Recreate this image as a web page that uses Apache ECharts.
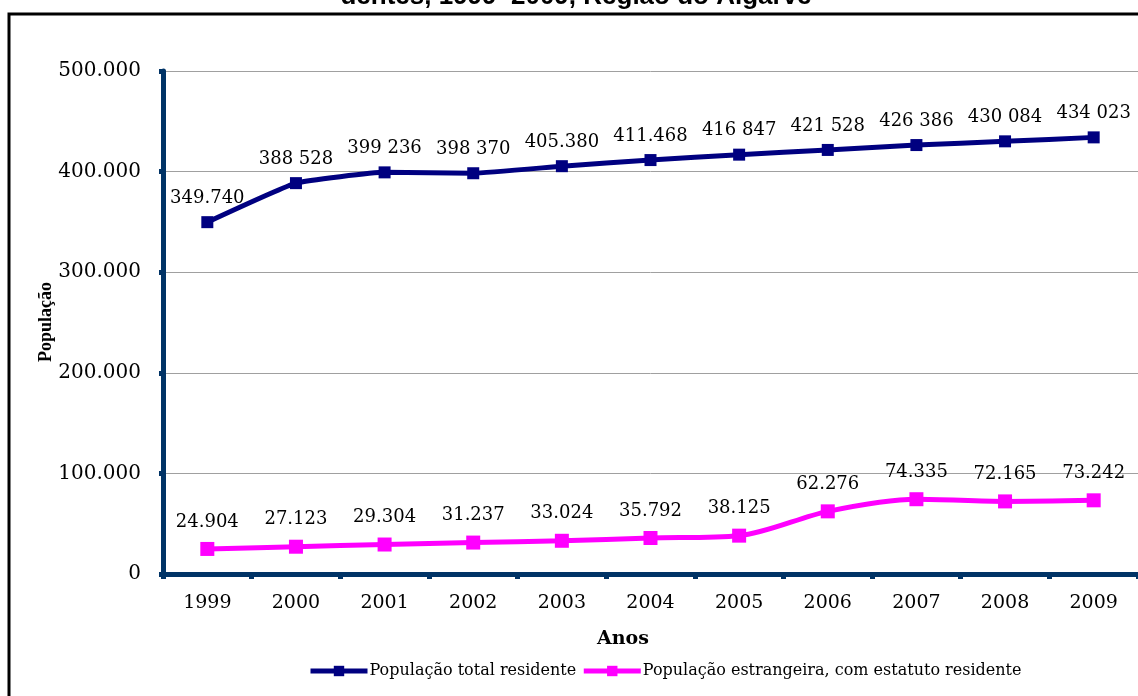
<!DOCTYPE html>
<html>
<head>
<meta charset="utf-8">
<script src="https://cdn.jsdelivr.net/npm/echarts@6/dist/echarts.min.js"></script>
<style>
  html, body { margin: 0; padding: 0; background: #fff; }
  #chart { width: 1138px; height: 696px; }
</style>
</head>
<body>
<div id="chart"></div>
<script>
// anos
const years = ['1999', '2000', '2001', '2002', '2003', '2004', '2005', '2006', '2007', '2008', '2009'];
// população total residente
const totalValues = [349740, 388528, 399236, 398370, 405380, 411468, 416847, 421528, 426386, 430084, 434023];
const totalLabels = ['349.740', '388 528', '399 236', '398 370', '405.380', '411.468', '416 847', '421 528', '426 386', '430 084', '434 023'];
// população estrangeira, com estatuto residente
const foreignValues = [24904, 27123, 29304, 31237, 33024, 35792, 38125, 62276, 74335, 72165, 73242];
const foreignLabels = ['24.904', '27.123', '29.304', '31.237', '33.024', '35.792', '38.125', '62.276', '74.335', '72.165', '73.242'];
// eixo Y
const yTickLabels = { 0: '0', 100000: '100.000', 200000: '200.000', 300000: '300.000', 400000: '400.000', 500000: '500.000' };

const serif = '"DejaVu Serif", "Liberation Serif", serif';
const axisColor = '#003366';

const chart = echarts.init(document.getElementById('chart'));

const option = {
  animation: false,
  backgroundColor: '#fff',
  grid: { left: 163, top: 71, width: 976, height: 503, containLabel: false },
  legend: {
    left: 303,
    top: 658,
    itemWidth: 57,
    itemHeight: 13,
    itemGap: 5,
    lineStyle: { width: 5 },
    textStyle: { fontFamily: serif, fontSize: 16, color: '#000', padding: [0, 0, 0, -3] },
    data: ['População total residente', 'População estrangeira, com estatuto residente']
  },
  xAxis: {
    type: 'category',
    data: years,
    boundaryGap: true,
    axisLine: { lineStyle: { color: axisColor, width: 5 } },
    axisTick: { show: true, length: 5, lineStyle: { color: axisColor, width: 5 } },
    axisLabel: { fontFamily: serif, fontSize: 19, color: '#000', margin: 20 },
    splitLine: { show: false }
  },
  yAxis: {
    type: 'value',
    min: 0,
    max: 500000,
    interval: 100000,
    axisLine: { show: true, lineStyle: { color: axisColor, width: 5 } },
    axisTick: { show: true, length: 4, lineStyle: { color: axisColor, width: 5 } },
    axisLabel: {
      fontFamily: serif, fontSize: 20, color: '#000', margin: 22,
      formatter: (v) => yTickLabels[v]
    },
    splitLine: { show: true, lineStyle: { color: '#a0a0a0', width: 1 } }
  },
  series: [
    {
      name: 'População total residente',
      type: 'line',
      data: totalValues,
      smooth: 0.12,
      symbol: 'rect',
      symbolSize: 12,
      lineStyle: { color: '#000080', width: 5 },
      itemStyle: { color: '#000080' },
      label: {
        show: true,
        position: 'top',
        distance: 9,
        fontFamily: serif,
        fontSize: 18,
        color: '#000',
        formatter: (p) => totalLabels[p.dataIndex]
      }
    },
    {
      name: 'População estrangeira, com estatuto residente',
      type: 'line',
      data: foreignValues,
      smooth: 0.3,
      symbol: 'rect',
      symbolSize: 14,
      lineStyle: { color: '#ff00ff', width: 5 },
      itemStyle: { color: '#ff00ff' },
      label: {
        show: true,
        position: 'top',
        distance: 11,
        fontFamily: serif,
        fontSize: 18,
        color: '#000',
        formatter: (p) => foreignLabels[p.dataIndex]
      }
    }
  ],
  graphic: [
    // moldura
    {
      type: 'rect',
      shape: { x: 9, y: 14, width: 1300, height: 900 },
      style: { fill: 'none', stroke: '#000', lineWidth: 3 },
      silent: true
    },
    // título (cortado no topo)
    {
      type: 'text',
      x: 576,
      y: 10,
      style: {
        text: 'dentes, 1999–2009, Região do Algarve',
        fontFamily: '"Liberation Sans", Arial, sans-serif',
        fontWeight: 'bold',
        fontSize: 26,
        fill: '#000',
        align: 'center',
        verticalAlign: 'bottom'
      }
    },
    {
      type: 'text',
      x: 623,
      y: 639,
      style: {
        text: 'Anos',
        fontFamily: serif,
        fontWeight: 'bold',
        fontSize: 19,
        fill: '#000',
        align: 'center',
        verticalAlign: 'middle'
      }
    },
    {
      type: 'text',
      x: 46,
      y: 322,
      rotation: Math.PI / 2,
      style: {
        text: 'População',
        fontFamily: '"Liberation Serif", serif',
        fontWeight: 'bold',
        fontSize: 18,
        fill: '#000',
        align: 'center',
        verticalAlign: 'middle'
      }
    }
  ]
};

chart.setOption(option);
</script>
</body>
</html>
